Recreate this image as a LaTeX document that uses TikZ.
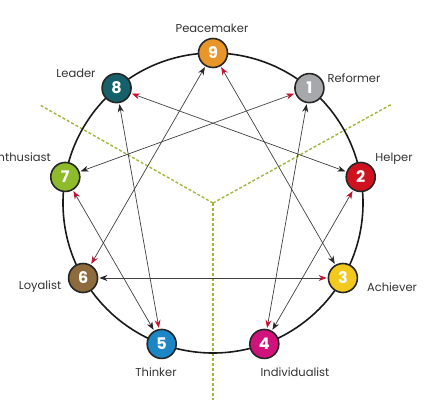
\documentclass[tikz,border=0pt]{standalone}
\usepackage{fontspec}
\setmainfont{Poppins}
\usetikzlibrary{arrows.meta}
\definecolor{cnine}{HTML}{E8962A}
\definecolor{cone}{HTML}{A7A8AC}
\definecolor{ctwo}{HTML}{D0121F}
\definecolor{cthree}{HTML}{F2C91C}
\definecolor{cfour}{HTML}{D1127C}
\definecolor{cfive}{HTML}{1C86C6}
\definecolor{csix}{HTML}{8E6B3C}
\definecolor{cseven}{HTML}{8DBB2B}
\definecolor{ceight}{HTML}{15606B}
\definecolor{tipred}{HTML}{C8102E}
\definecolor{sepgreen}{HTML}{A4B53E}
\begin{document}
\begin{tikzpicture}[x=1pt,y=-1pt,
  num/.style={circle,draw=black!85,line width=1.6pt,minimum size=29pt,inner sep=0pt,text=white,font=\fontsize{16}{16}\selectfont\bfseries},
  lbl/.style={font=\fontsize{11.5}{12}\selectfont,text=black!80,inner sep=0pt},
  link/.style={draw=black!75,line width=0.7pt,shorten >=1pt,shorten <=1pt},
  bk/.tip={Stealth[length=8pt,width=6pt,color=black!85]},
  rd/.tip={Stealth[length=8pt,width=6pt,color=tipred]},
  sep/.style={draw=sepgreen,line width=1.4pt,dash pattern=on 3pt off 2pt},
  ring/.style={draw=black!90,line width=1.6pt}]
\useasboundingbox (0,0) rectangle (428,400);
\clip (0,0) rectangle (428,400);
\coordinate (c) at (213,203);
\coordinate (sa) at (40,105);
\coordinate (sb) at (392,104);
\coordinate (sc) at (213,400);
\draw[sep] (c) -- (sa);
\draw[sep] (c) -- (sb);
\draw[sep] (c) -- (sc);
\draw[ring] (c) circle[radius=150];
\path (c) ++(-90:150) node[num,fill=cnine] (n9) {9};
\path (c) ++(-50:150) node[num,fill=cone] (n1) {1};
\path (c) ++(-10:150) node[num,fill=ctwo] (n2) {2};
\path (c) ++(30:150) node[num,fill=cthree] (n3) {3};
\path (c) ++(70:150) node[num,fill=cfour] (n4) {4};
\path (c) ++(110:150) node[num,fill=cfive] (n5) {5};
\path (c) ++(150:150) node[num,fill=csix] (n6) {6};
\path (c) ++(-170:150) node[num,fill=cseven] (n7) {7};
\path (c) ++(-130:150) node[num,fill=ceight] (n8) {8};
\draw[link,bk-rd] (n1) -- (n4);
\draw[link,bk-rd] (n4) -- (n2);
\draw[link,bk-rd] (n2) -- (n8);
\draw[link,bk-rd] (n8) -- (n5);
\draw[link,bk-rd] (n5) -- (n7);
\draw[link,bk-rd] (n7) -- (n1);
\draw[link,bk-rd] (n3) -- (n9);
\draw[link,bk-rd] (n6) -- (n3);
\draw[link,bk-rd] (n9) -- (n6);
\node[lbl] (l9) at (212,28) {Peacemaker};
\node[lbl] (l1) at (354,78) {Reformer};
\node[lbl] (l2) at (394,159) {Helper};
\node[lbl] (l3) at (392,287) {Achiever};
\node[lbl] (l4) at (295,372) {Individualist};
\node[lbl] (l5) at (156,372) {Thinker};
\node[lbl] (l6) at (40,287) {Loyalist};
\node[lbl,anchor=east] (l7) at (51,157) {Enthusiast};
\node[lbl] (l8) at (76,73) {Leader};
\end{tikzpicture}
\end{document}
